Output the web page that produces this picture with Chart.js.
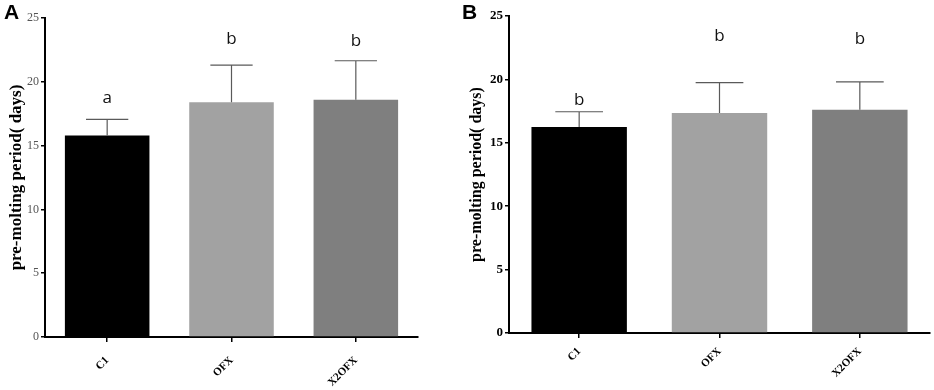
<!DOCTYPE html>
<html>
<head>
<meta charset="utf-8">
<script src="https://cdn.jsdelivr.net/npm/chart.js@4/dist/chart.umd.min.js"></script>
<style>
  body { margin: 0; background: #fff; width: 934px; height: 390px; position: relative; overflow: hidden; }
  canvas { position: absolute; top: 0; }
  #chartA { left: 0; }
  #chartB { left: 460px; }
  .panel { position: absolute; top: 0; font: bold 21px Arial, "Liberation Sans", sans-serif; color: #000; }
</style>
</head>
<body>
<canvas id="chartA" width="460" height="390"></canvas>
<canvas id="chartB" width="474" height="390"></canvas>
<div class="panel" style="left:4px">A</div>
<div class="panel" style="left:462px">B</div>
<script>
// groups and tick values
const categories = ['C1', 'OFX', 'X2OFX'];
const yTicks = [0, 5, 10, 15, 20, 25];
const barColors = ['#000000', '#a2a2a2', '#7f7f7f'];

// panel A
const meansA = [15.8, 18.4, 18.6];
const sdA = [1.25, 2.9, 3.05];
const lettersA = ['a', 'b', 'b'];
const letterYA = [18.7, 23.35, 23.15];

// panel B
const meansB = [16.25, 17.35, 17.6];
const sdB = [1.2, 2.4, 2.2];
const lettersB = ['b', 'b', 'b'];
const letterYB = [18.4, 23.4, 23.15];

const serif = '"Liberation Serif", "Times New Roman", serif';

// draws the upper SD whisker and the significance letter over each bar
const errorBars = {
	id: 'errorBars',
	afterDatasetsDraw(chart, args, opts) {
		const ctx = chart.ctx;
		const y = chart.scales.y;
		const meta = chart.getDatasetMeta(0);
		ctx.save();
		meta.data.forEach(function(bar, i) {
			const top = y.getPixelForValue(opts.means[i] + opts.sd[i]);
			const half = bar.width / 4;
			ctx.strokeStyle = '#5a5a5a';
			ctx.lineWidth = 1.2;
			ctx.beginPath();
			ctx.moveTo(bar.x, bar.y);
			ctx.lineTo(bar.x, top);
			ctx.moveTo(bar.x - half, top);
			ctx.lineTo(bar.x + half, top);
			ctx.stroke();

			ctx.fillStyle = '#111';
			ctx.font = '17px "Open Sans", sans-serif';
			ctx.textAlign = 'center';
			ctx.textBaseline = 'middle';
			ctx.fillText(opts.letters[i], bar.x, y.getPixelForValue(opts.letterY[i]));
		});
		ctx.restore();
	}
};

function makeChart(id, cfg) {
	return new Chart(document.getElementById(id), {
		type: 'bar',
		data: {
			labels: categories,
			datasets: [{
				data: cfg.means,
				backgroundColor: barColors,
				borderWidth: 0,
				barPercentage: 0.68,
				categoryPercentage: 1
			}]
		},
		options: {
			responsive: false,
			animation: false,
			layout: { padding: { top: cfg.padTop, right: cfg.padRight, left: 0, bottom: 0 } },
			scales: {
				x: {
					afterFit: function(scale) { scale.height = cfg.xHeight; },
					grid: { offset: false, drawOnChartArea: false, tickLength: 5, color: '#000', lineWidth: 1.5 },
					border: { color: '#000', width: 2 },
					ticks: {
						minRotation: 45,
						maxRotation: 45,
						padding: cfg.xPad,
						color: '#000',
						font: { family: serif, weight: 'bold', size: 11 }
					}
				},
				y: {
					min: 0,
					max: 25,
					afterFit: function(scale) { scale.width = cfg.yWidth; },
					afterBuildTicks: function(scale) { scale.ticks = yTicks.map(v => ({ value: v })); },
					grid: { drawOnChartArea: false, tickLength: 4, color: '#000', lineWidth: 1.5 },
					border: { color: '#000', width: 2 },
					ticks: {
						padding: 2,
						color: cfg.tickColor,
						font: { family: serif, weight: cfg.tickWeight, size: cfg.tickSize }
					},
					title: {
						display: true,
						text: 'pre-molting period( days)',
						color: '#000',
						padding: { top: cfg.titlePad, bottom: 0 },
						font: { family: serif, weight: 'bold', size: cfg.titleSize }
					}
				}
			},
			plugins: {
				legend: { display: false },
				tooltip: { enabled: false },
				errorBars: { means: cfg.means, sd: cfg.sd, letters: cfg.letters, letterY: cfg.letterY }
			}
		},
		plugins: [errorBars]
	});
}

makeChart('chartA', {
	means: meansA, sd: sdA, letters: lettersA, letterY: letterYA,
	padTop: 18, padRight: 42, xHeight: 53, yWidth: 45, xPad: 12,
	tickColor: '#555', tickWeight: 'normal', tickSize: 12, titleSize: 17, titlePad: 6
});

makeChart('chartB', {
	means: meansB, sd: sdB, letters: lettersB, letterY: letterYB,
	padTop: 16, padRight: 4, xHeight: 57, yWidth: 49, xPad: 7,
	tickColor: '#000', tickWeight: 'bold', tickSize: 13, titleSize: 16, titlePad: 7
});
</script>
</body>
</html>
